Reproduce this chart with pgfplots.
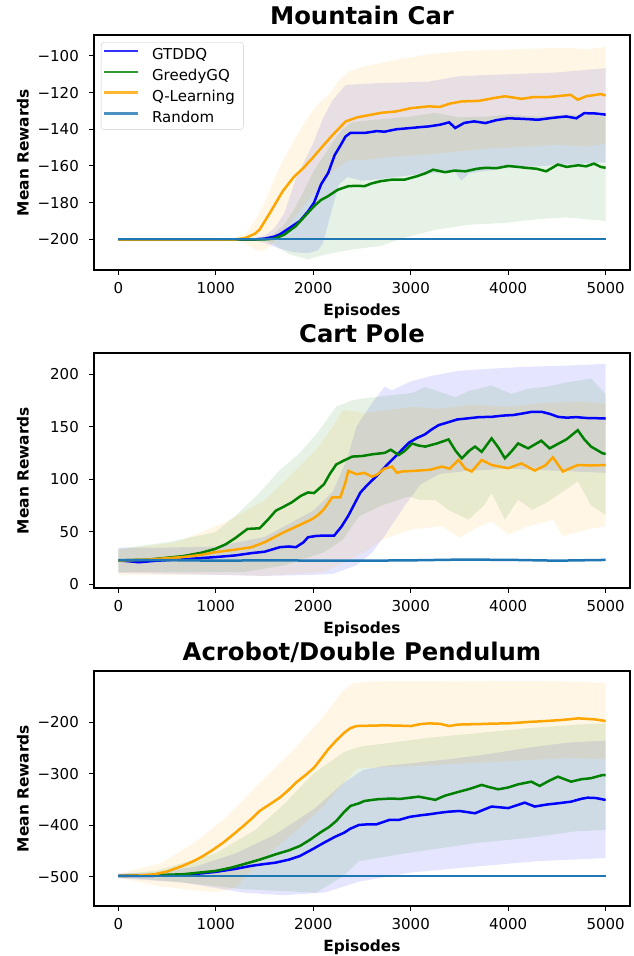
\documentclass[border=0pt]{standalone}
\usepackage{fontspec}
\setmainfont{DejaVu Sans}
\usepackage{pgfplots}
\pgfplotsset{compat=1.18}
\usepgfplotslibrary{fillbetween}

\definecolor{cgtd}{RGB}{0,0,255}
\definecolor{cggq}{RGB}{0,128,0}
\definecolor{cql}{RGB}{255,165,0}
\definecolor{crnd}{RGB}{31,119,180}

\newcommand{\tickfont}{\fontsize{15}{18}\selectfont}
\newcommand{\labfont}{\fontsize{15.4}{18}\selectfont\bfseries}
\newcommand{\titfont}{\fontsize{24.3}{28}\selectfont\bfseries}
\newcommand{\legtxt}[1]{\vphantom{Qy}#1}

\pgfplotsset{
  panel/.style={
    scale only axis, width=536pt, height=235pt, anchor=south west,
    xmin=-250, xmax=5250,
    xtick={0,1000,2000,3000,4000,5000},
    xticklabels={0,1000,2000,3000,4000,5000},
    tick align=outside, tick pos=left, major tick length=5pt,
    every tick/.style={black, line width=1pt},
    axis line style={line width=1.1pt},
    ticklabel style={font=\tickfont, inner sep=0pt},
    xticklabel style={anchor=north, yshift=-6.7pt},
    yticklabel style={anchor=east, xshift=-10pt},
    xlabel={Episodes}, ylabel={Mean Rewards},
    xlabel style={at={(rel axis cs:0.5,-0.1915)}, anchor=base, font=\labfont, inner sep=0pt},
    ylabel style={at={(rel axis cs:-0.1222,0.5)}, anchor=base, font=\labfont, inner sep=0pt},
    every axis title shift=0pt,
    title style={at={(rel axis cs:0.5,1.0426)}, anchor=base, font=\titfont, inner sep=0pt},
  },
  band/.style={draw=none, forget plot},
  mline/.style={line width=2.5pt, mark=none},
}

\begin{document}
\begin{tikzpicture}

% ---------------- Mountain Car ----------------
\begin{axis}[panel, at={(94pt,-270pt)}, title={Mountain Car},
    ymin=-216.7, ymax=-88.6,
    ytick={-200,-180,-160,-140,-120,-100},
    yticklabels={−200,−180,−160,−140,−120,−100},
    legend style={at={(rel axis cs:0.0128,0.97)}, anchor=north west,
      draw=black!20, rounded corners=3pt, fill=white, fill opacity=0.8,
      text opacity=1, font=\tickfont, inner xsep=1.5pt, inner ysep=4pt,
      row sep=4pt, column sep=11pt},
    legend cell align=left,
    legend image code/.code={\draw[#1, line width=2.5pt, opacity=0.8] (0pt,0.35em) -- (34pt,0.35em);}]
  % bands
  \addplot[band, name path=gu] coordinates {(0,-199.5)(1400,-199.5)(1500,-198)(1600,-194)(1700,-186)(1823,-166.5)(1993,-148.4)(2100,-134)(2200,-124)(2333,-115.8)(2600,-115)(3184,-114)(3500,-111)(4000,-110)(4500,-109)(5000,-106.7)};
  \addplot[band, name path=gl] coordinates {(0,-200.5)(1400,-200.5)(1500,-202)(1650,-205)(1800,-207)(1950,-207.5)(2050,-206)(2100,-202)(2150,-192)(2200,-182)(2265,-170)(2350,-166)(2500,-168)(2700,-167)(3000,-165)(3450,-163)(3520,-168)(3600,-164)(4000,-161)(4500,-159.5)(5000,-158)};
  \addplot[cgtd, fill opacity=0.1, draw=none, forget plot] fill between[of=gu and gl];
  \addplot[band, name path=hu] coordinates {(0,-199.5)(1500,-199.5)(1600,-197)(1700,-192)(1800,-184)(1900,-174)(2000,-163)(2100,-155)(2200,-147)(2300,-140)(2400,-136)(2600,-135)(2800,-134)(3000,-133)(3250,-131)(3500,-133.5)(3800,-133)(4000,-132)(4300,-133)(4600,-132)(4800,-132)(5000,-133)};
  \addplot[band, name path=hl] coordinates {(0,-200.5)(1500,-200.5)(1600,-203)(1750,-208)(1946,-210.9)(2100,-208.5)(2400,-205.5)(2690,-203.6)(2940,-199)(3270,-194.6)(3600,-192)(3975,-191)(4300,-189)(4595,-188)(4800,-189)(5000,-190)};
  \addplot[cggq, fill opacity=0.1, draw=none, forget plot] fill between[of=hu and hl];
  \addplot[band, name path=qu] coordinates {(0,-199.5)(1200,-199.5)(1300,-197)(1400,-190)(1500,-180)(1600,-167)(1700,-156)(1823,-144)(1950,-133)(2050,-126)(2163,-121)(2250,-114)(2367,-108.5)(2500,-106)(2844,-102.2)(3200,-99)(3500,-97.5)(3864,-96.7)(4300,-96)(4600,-95.5)(4800,-96.5)(5000,-95)};
  \addplot[band, name path=ql] coordinates {(0,-200.5)(1200,-200.5)(1300,-202)(1400,-205.5)(1470,-206.5)(1550,-204)(1650,-198)(1750,-192)(1900,-182)(2050,-172)(2200,-163)(2350,-157)(2500,-157)(2800,-155)(3184,-153.8)(3500,-152)(3800,-150.5)(4200,-149.5)(4500,-148.5)(4800,-149.5)(5000,-148)};
  \addplot[cql, fill opacity=0.1, draw=none, forget plot] fill between[of=qu and ql];
  % means
  \addplot[cgtd, mline] coordinates {(0,-200)(1400,-200)(1500,-199.6)(1600,-198.5)(1656,-197.3)(1750,-194)(1863,-190)(1950,-184.5)(2008,-180)(2080,-170)(2153,-163.8)(2220,-154)(2277,-149)(2330,-144)(2380,-142)(2525,-142)(2650,-141)(2732,-141.3)(2850,-140)(3000,-139.3)(3100,-138.8)(3190,-138.4)(3300,-137.5)(3395,-136.2)(3456,-139.3)(3550,-136.5)(3650,-135.7)(3767,-136.6)(3880,-135)(4000,-134)(4150,-134.3)(4306,-134.8)(4450,-133.8)(4595,-133)(4700,-134)(4780,-131.2)(4900,-131.4)(5000,-132)};
  \addplot[cggq, mline] coordinates {(0,-200)(1500,-200)(1600,-199.6)(1700,-197.5)(1820,-192.8)(1920,-187)(2008,-181.9)(2080,-178.5)(2153,-176.4)(2250,-173)(2360,-171)(2450,-170.8)(2525,-171)(2600,-169.5)(2690,-168.3)(2800,-167.5)(2940,-167.4)(3063,-165.6)(3150,-164)(3230,-162)(3353,-163.4)(3450,-162.5)(3560,-162.9)(3680,-161.5)(3767,-161)(3880,-161.2)(4000,-160)(4100,-160.5)(4180,-161)(4290,-161.5)(4390,-162.9)(4510,-159.2)(4600,-160.5)(4720,-159.6)(4800,-160.2)(4880,-158.7)(4950,-160.5)(5000,-161)};
  \addplot[cql, mline] coordinates {(0,-200)(1200,-200)(1300,-199.3)(1400,-197)(1450,-194.6)(1550,-186)(1687,-173.7)(1800,-166)(1900,-161)(1993,-155.6)(2100,-149)(2200,-143)(2333,-135.7)(2450,-133.5)(2550,-132.5)(2700,-131)(2844,-130.3)(3000,-128.5)(3184,-127.5)(3300,-127.8)(3400,-126)(3524,-124.8)(3700,-124.5)(3850,-123)(3966,-122)(4140,-123.4)(4250,-122.5)(4390,-122.5)(4500,-122)(4640,-121.2)(4714,-123.9)(4800,-122)(4952,-120.8)(5000,-121.6)};
  \addplot[crnd, mline] coordinates {(0,-199.7)(5000,-199.7)};
  \legend{\legtxt{GTDDQ},\legtxt{GreedyGQ},\legtxt{Q-Learning}\kern5pt,\legtxt{Random}}
\end{axis}

% ---------------- Cart Pole ----------------
\begin{axis}[panel, at={(94pt,-588pt)}, title={Cart Pole},
    ymin=-3.5, ymax=220,
    ytick={0,50,100,150,200},
    yticklabels={0,50,100,150,200}]
  \addplot[band, name path=gu] coordinates {(0,35)(500,35)(1000,36)(1500,45)(1800,60)(2000,70)(2200,88)(2350,120)(2443,150)(2600,172)(2732,188)(2809,184.5)(3000,193)(3200,198)(3490,203)(3800,205)(4200,207)(4600,208)(5000,209.7)};
  \addplot[band, name path=gl] coordinates {(0,11)(500,10)(1000,9)(1500,8)(2000,9)(2200,10)(2443,18)(2600,30)(2732,46)(2940,75)(3100,95)(3300,105)(3600,108)(4000,110)(4500,108)(5000,106)};
  \addplot[cgtd, fill opacity=0.1, draw=none, forget plot] fill between[of=gu and gl];
  \addplot[band, name path=hu] coordinates {(0,33.7)(500,40)(994,49.5)(1200,65)(1449,87)(1650,108)(1863,125)(2050,145)(2236,169)(2400,175)(2525,177)(2815,180)(3013,182)(3150,187.7)(3300,183)(3456,178)(3600,184)(3830,189)(4034,181)(4200,186)(4400,188)(4600,192)(4850,195.6)(5000,181)};
  \addplot[band, name path=hl] coordinates {(0,11.7)(1283,11.7)(1700,18)(2111,30.6)(2300,42)(2469,64.7)(2700,75)(2980,83.6)(3100,80)(3252,80)(3400,70)(3592,61.5)(3750,75)(3830,86.7)(3966,61.5)(4102,80.4)(4250,70.9)(4400,78)(4714,97.8)(4850,75)(5000,66)};
  \addplot[cggq, fill opacity=0.1, draw=none, forget plot] fill between[of=hu and hl];
  \addplot[band, name path=qu] coordinates {(0,33)(600,40)(1116,60)(1500,80)(1796,106)(2050,130)(2200,150)(2306,166)(2525,163)(2700,165)(3000,168.8)(3300,167)(3600,171)(4000,169)(4300,172)(4700,174)(5000,171.9)};
  \addplot[band, name path=ql] coordinates {(0,9)(1000,9)(1500,8)(2111,11.7)(2300,20)(2525,30.6)(2700,42)(2809,45.8)(3000,52)(3320,55.3)(3500,44.2)(3700,55)(3830,60)(4000,47.3)(4200,55)(4459,61.5)(4561,45.8)(4800,52)(5000,55.3)};
  \addplot[cql, fill opacity=0.1, draw=none, forget plot] fill between[of=qu and ql];
  \addplot[cgtd, mline] coordinates {(0,22.7)(100,22)(207,21)(400,22.5)(662,23.7)(850,25)(994,25.9)(1200,27.5)(1366,29.7)(1500,31)(1656,35.3)(1750,36)(1822,35.3)(1900,40)(1946,44.8)(2030,46)(2111,46.4)(2215,46.4)(2290,55)(2360,65.3)(2420,76)(2484,87.4)(2560,95)(2650,103)(2730,111)(2815,119)(2900,127)(2981,134.7)(3060,139)(3146,142.6)(3210,147)(3286,151.4)(3380,154)(3478,156.8)(3600,158)(3700,159)(3830,159.3)(3950,160.5)(4050,161)(4150,162.5)(4238,164)(4347,164)(4430,162)(4510,159.3)(4600,158.5)(4700,159)(4800,158.2)(4900,158)(5000,157.7)};
  \addplot[cggq, mline] coordinates {(0,22.7)(300,23.5)(662,26.8)(850,30)(994,33.7)(1100,38)(1200,44)(1325,52.7)(1449,53.3)(1530,61)(1615,70)(1700,74)(1780,78)(1870,84)(1946,87.4)(2008,86.8)(2111,95.3)(2170,105)(2236,114)(2320,118)(2401,121.5)(2500,122)(2608,123.7)(2732,125)(2795,128)(2878,123)(2940,127)(3013,134)(3080,132)(3150,131)(3270,134)(3388,137.8)(3460,127)(3524,119.9)(3600,127)(3660,131)(3728,126)(3830,138.8)(3900,130)(3966,119.9)(4030,126)(4102,134)(4204,129.3)(4340,136.6)(4425,129.3)(4500,133)(4600,138)(4714,146.6)(4780,138)(4850,131)(4969,124.6)(5000,124)};
  \addplot[cql, mline] coordinates {(0,22.7)(300,23.5)(662,25.9)(850,28)(994,30.6)(1200,33)(1366,35.3)(1500,40)(1697,49.5)(1850,56)(1987,62)(2050,66)(2111,71.6)(2194,82.6)(2277,82.6)(2330,97)(2360,107.9)(2443,104.7)(2525,106)(2600,102.5)(2650,104)(2730,110)(2809,112)(2857,106)(2911,107.3)(3050,108)(3200,109)(3320,112)(3400,110)(3490,118.3)(3560,110)(3626,107.3)(3728,118.3)(3830,113.5)(4000,110.4)(4136,115)(4272,108.2)(4380,113)(4459,120.8)(4561,107.3)(4714,113.5)(4850,113)(5000,113.5)};
  \addplot[crnd, mline] coordinates {(0,23)(500,23)(1000,22.5)(1500,22.8)(2000,22.6)(2500,22.5)(3000,22.8)(3500,23.5)(4000,23.3)(4500,22.5)(5000,23.2)};
\end{axis}

% ---------------- Acrobot ----------------
\begin{axis}[panel, at={(94pt,-906pt)}, title={Acrobot/Double Pendulum},
    ymin=-557, ymax=-101,
    ytick={-500,-400,-300,-200},
    yticklabels={−500,−400,−300,−200}]
  \addplot[band, name path=gu] coordinates {(0,-494)(400,-492)(800,-480)(1200,-455)(1592,-420)(2000,-370)(2300,-320)(2510,-293)(2732,-285)(3000,-280)(3400,-272)(3800,-262)(4200,-250)(4600,-240)(5000,-236)};
  \addplot[band, name path=gl] coordinates {(0,-503)(662,-511.6)(1283,-531)(1697,-536)(2111,-531)(2300,-520)(2469,-509.7)(3000,-492)(3660,-480.6)(4300,-470)(5000,-464)};
  \addplot[cgtd, fill opacity=0.1, draw=none, forget plot] fill between[of=gu and gl];
  \addplot[band, name path=hu] coordinates {(0,-496)(400,-488)(994,-455)(1400,-410)(1697,-360)(2000,-300)(2318,-258)(2469,-248)(2800,-240)(3200,-230)(3660,-222)(4200,-212)(4700,-205)(5000,-202.6)};
  \addplot[band, name path=hl] coordinates {(0,-501)(600,-510)(1283,-524.5)(2029,-531)(2300,-500)(2469,-470)(2940,-455)(3660,-435)(4200,-425)(4700,-412)(5000,-409.4)};
  \addplot[cggq, fill opacity=0.1, draw=none, forget plot] fill between[of=hu and hl];
  \addplot[band, name path=qu] coordinates {(0,-495)(200,-485)(435,-474)(776,-435)(1115,-383.6)(1450,-318)(1796,-254)(2100,-190)(2300,-140)(2408,-125)(2600,-121)(3000,-120.5)(3500,-121)(4000,-120)(4500,-120.5)(5000,-123.7)};
  \addplot[band, name path=ql] coordinates {(0,-502)(400,-518)(800,-527)(1000,-530)(1200,-522)(1456,-470)(1800,-415)(2100,-365)(2300,-320)(2450,-290)(2700,-288)(3000,-286)(3400,-282)(3800,-278)(4200,-274)(4600,-270)(5000,-272)};
  \addplot[cql, fill opacity=0.1, draw=none, forget plot] fill between[of=qu and ql];
  \addplot[cgtd, mline] coordinates {(0,-498.6)(300,-498.5)(662,-497.3)(994,-490.9)(1200,-485)(1366,-479)(1500,-475.5)(1615,-472.8)(1750,-467)(1863,-459.9)(1990,-447)(2111,-434)(2220,-423)(2318,-414.6)(2380,-407)(2469,-399.7)(2560,-398.5)(2650,-398.4)(2780,-390)(2878,-390)(2990,-384)(3100,-381)(3190,-379)(3300,-376)(3388,-374)(3500,-372.6)(3660,-377)(3750,-370)(3830,-364)(4000,-367)(4170,-356.4)(4272,-364)(4400,-360)(4510,-357.7)(4646,-354.5)(4750,-349)(4816,-346.8)(4900,-347.5)(5000,-351.3)};
  \addplot[cggq, mline] coordinates {(0,-498.6)(300,-497.5)(662,-495.4)(994,-489)(1150,-483)(1283,-476)(1450,-467)(1615,-456.6)(1750,-449)(1863,-440.5)(1970,-428)(2070,-414.6)(2160,-404)(2236,-392)(2310,-376)(2380,-362.9)(2469,-357.7)(2525,-353.2)(2650,-350)(2774,-348.7)(2900,-349)(3082,-344.8)(3252,-351)(3350,-343)(3500,-335)(3600,-330)(3728,-322)(3800,-326)(3898,-330.5)(4000,-327)(4100,-321)(4238,-315.7)(4323,-324)(4420,-314)(4510,-306)(4646,-315.7)(4750,-311)(4850,-309)(4969,-302.8)(5000,-303)};
  \addplot[cql, mline] coordinates {(0,-498.6)(200,-498)(373,-495.4)(500,-490)(662,-479)(770,-470)(870,-459.9)(970,-448)(1076,-434)(1180,-418)(1283,-401.7)(1370,-387)(1449,-372.6)(1550,-360)(1656,-346.7)(1740,-333)(1822,-317.6)(1920,-303)(2008,-288.6)(2080,-271)(2153,-253)(2240,-235)(2318,-220.7)(2380,-212)(2443,-207.8)(2600,-207)(2732,-206.5)(2870,-207)(3000,-207.8)(3100,-204)(3190,-202.6)(3300,-203.5)(3395,-207.8)(3480,-205)(3560,-204.5)(3700,-204)(3850,-203)(4000,-202.6)(4200,-200)(4390,-198)(4550,-196)(4720,-192.9)(4886,-194.8)(5000,-198)};
  \addplot[crnd, mline] coordinates {(0,-498.8)(5000,-498.8)};
\end{axis}
\path (0,0) rectangle (634pt,-956pt);
\end{tikzpicture}
\end{document}
